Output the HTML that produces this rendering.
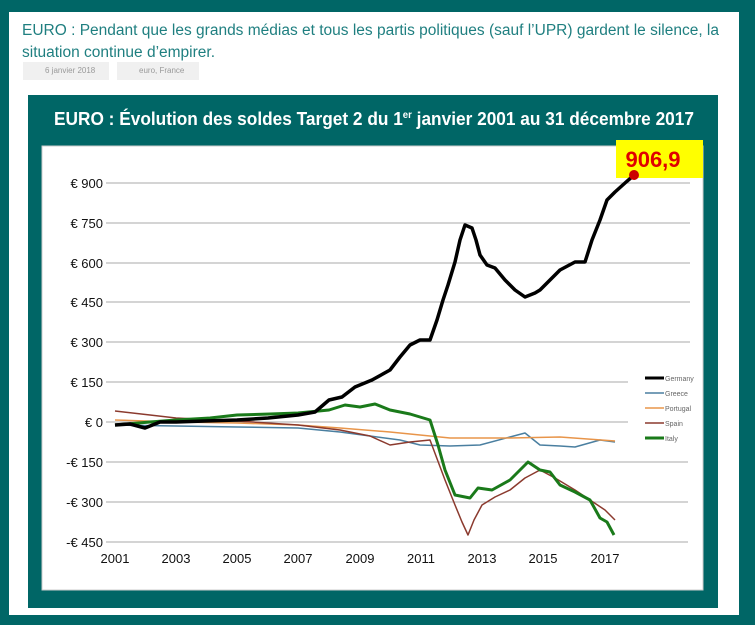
<!DOCTYPE html>
<html><head><meta charset="utf-8"><style>
body{margin:0;width:755px;height:625px;background:#006666;overflow:hidden;font-family:"Liberation Sans",sans-serif}
#p{position:absolute;left:9px;top:12px;width:730px;height:603px;background:#fff}
.h{position:absolute;left:13px;top:8px;width:712px;color:#1f7f80;font-size:15.5px;line-height:22px;font-family:"Liberation Sans Narrow","Liberation Sans",sans-serif}
.tag{position:absolute;top:50px;height:18px;background:#f0f0f0;color:#999;font-size:8px;line-height:18px;padding-left:22px}
</style></head><body>
<div id="p">
<div class="h">EURO : Pendant que les grands médias et tous les partis politiques (sauf l’UPR) gardent le silence, la situation continue d’empirer.</div>
<div class="tag" style="left:14px;width:64px">6 janvier 2018</div>
<div class="tag" style="left:108px;width:60px">euro, France</div>
</div>
<svg width="755" height="625" style="position:absolute;left:0;top:0">
<rect x="28" y="95" width="690" height="513" fill="#006666"/>
<text x="54" y="125" fill="#fff" font-size="18" font-weight="bold" textLength="640" lengthAdjust="spacingAndGlyphs" font-family="Liberation Sans Narrow,Liberation Sans,sans-serif">EURO : Évolution des soldes Target 2 du 1<tspan font-size="10" dy="-7">er</tspan><tspan dy="7"> janvier 2001 au 31 décembre 2017</tspan></text>
<rect x="42" y="146" width="661" height="444" fill="#fff" stroke="#ccc"/>
<g stroke="#aaa" stroke-width="1">
<line x1="106" y1="183" x2="690" y2="183"/><line x1="106" y1="223" x2="690" y2="223"/>
<line x1="106" y1="263" x2="690" y2="263"/><line x1="106" y1="302" x2="690" y2="302"/>
<line x1="106" y1="342" x2="690" y2="342"/><line x1="106" y1="382" x2="628" y2="382"/>
<line x1="106" y1="422" x2="628" y2="422"/><line x1="106" y1="462" x2="688" y2="462"/>
<line x1="106" y1="502" x2="688" y2="502"/><line x1="106" y1="542" x2="688" y2="542"/>
</g>
<rect x="616" y="140" width="87" height="38" fill="#ffff00"/>
<text x="653" y="167" fill="#e00000" font-size="22" font-weight="bold" text-anchor="middle">906,9</text>
<g font-size="13" text-anchor="end" fill="#111">
<text x="103" y="188">€ 900</text><text x="103" y="228">€ 750</text><text x="103" y="268">€ 600</text>
<text x="103" y="307">€ 450</text><text x="103" y="347">€ 300</text><text x="103" y="387">€ 150</text>
<text x="103" y="427">€ 0</text><text x="103" y="467">-€ 150</text><text x="103" y="507">-€ 300</text><text x="103" y="547">-€ 450</text>
</g>
<g font-size="13" text-anchor="middle" fill="#111">
<text x="115" y="563">2001</text><text x="176" y="563">2003</text><text x="237" y="563">2005</text><text x="298" y="563">2007</text>
<text x="360" y="563">2009</text><text x="421" y="563">2011</text><text x="482" y="563">2013</text><text x="543" y="563">2015</text><text x="605" y="563">2017</text>
</g>
<g fill="none" stroke-linejoin="round">
<polyline stroke="#4a7fa0" stroke-width="1.5" points="115,425 176,426 237,427 298,428 340,432 370,436 400,440 420,445 450,446 480,445 510,437 525,433 540,445 560,446 575,447 600,440 615,442"/>
<polyline stroke="#e8954a" stroke-width="1.5" points="115,420 176,422 237,423 298,425 340,428 390,432 450,438 510,438 560,437 615,441"/>
<polyline stroke="#8b3a2e" stroke-width="1.5" points="115,411 150,415 176,418 237,421 298,425 340,430 370,436 390,445 410,442 430,440 445,480 455,505 462,522 468,535 474,520 482,505 495,497 510,490 525,478 540,470 555,478 575,490 590,500 605,510 615,520"/>
<polyline stroke="#1a7a1a" stroke-width="3" points="115,425 150,422 176,420 210,418 237,415 270,414 298,413 329,410 345,405 360,407 375,404 390,410 410,414 430,420 438,445 445,470 455,495 470,498 478,488 492,490 510,480 520,470 528,462 540,470 550,472 560,485 575,492 590,500 600,518 607,522 614,535"/>
<polyline stroke="#000" stroke-width="3.5" points="115,425 130,424 145,428 160,422 176,422 205,421 237,420 268,418 298,415 315,412 329,400 342,397 355,387 372,380 390,370 400,357 410,345 420,340 430,340 437,320 443,300 448,285 455,262 460,240 465,225 472,228 476,240 480,255 487,265 495,268 505,280 515,290 525,297 535,293 540,290 550,280 560,270 575,262 585,262 592,240 600,220 607,200 615,192 625,183 633,176"/>
</g>
<circle cx="634" cy="175" r="5" fill="#c00"/>
<g font-size="7" fill="#666">
<line x1="645" y1="378" x2="664" y2="378" stroke="#000" stroke-width="3"/><text x="665" y="381">Germany</text>
<line x1="645" y1="393" x2="664" y2="393" stroke="#4a7fa0" stroke-width="1.5"/><text x="665" y="396">Greece</text>
<line x1="645" y1="408" x2="664" y2="408" stroke="#e8954a" stroke-width="1.5"/><text x="665" y="411">Portugal</text>
<line x1="645" y1="423" x2="664" y2="423" stroke="#8b3a2e" stroke-width="1.5"/><text x="665" y="426">Spain</text>
<line x1="645" y1="438" x2="664" y2="438" stroke="#1a7a1a" stroke-width="3"/><text x="665" y="441">Italy</text>
</g>
</svg>
</body></html>
